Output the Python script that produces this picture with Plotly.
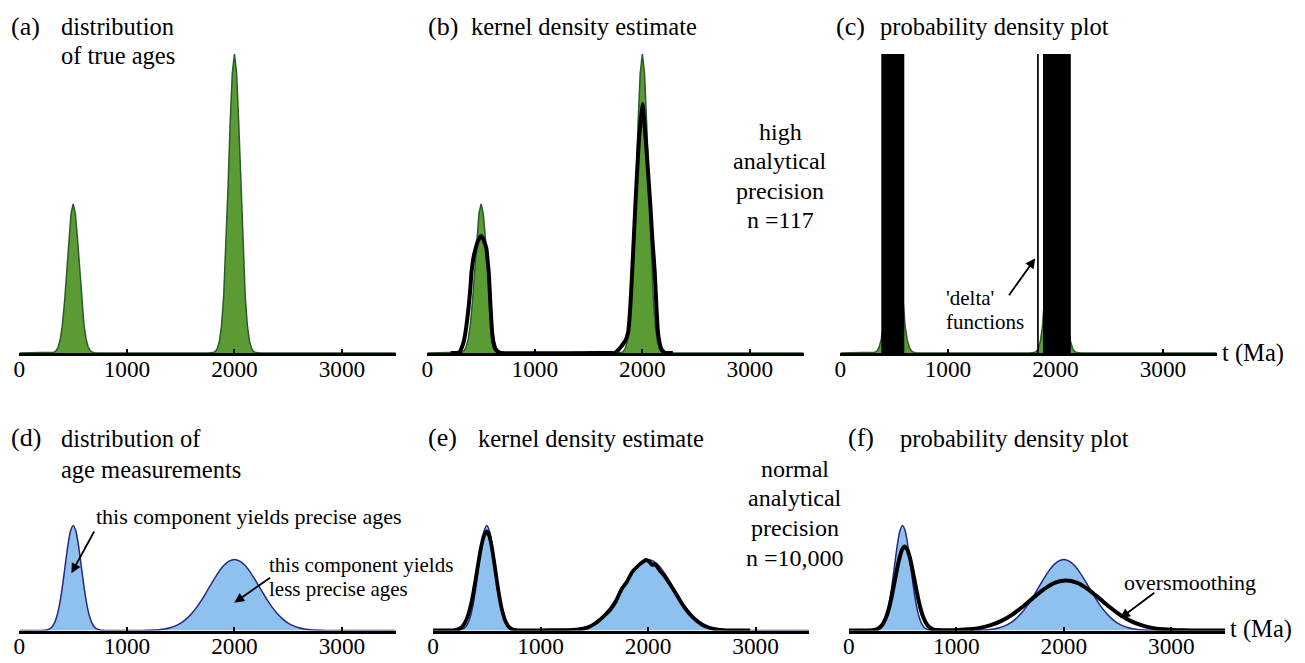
import plotly.graph_objects as go

# ------------------------------------------------------------------ data
AGE_TICKS = [0, 1000, 2000, 3000]
TICK_LABELS = ["0", "1000", "2000", "3000"]
AGE_MAX = 3500

# distribution of true ages (panels a, b, c) – relative density
true_t = [0, 260, 280, 300, 320, 340, 360, 380, 400, 420, 440, 460, 480, 500,
          520, 540, 560, 580, 600, 620, 640, 660, 680, 700, 720, 740,
          1760, 1780, 1800, 1820, 1840, 1860, 1880, 1900, 1920, 1940, 1960, 1980, 2000,
          2020, 2040, 2060, 2080, 2100, 2120, 2140, 2160, 2180, 2200, 2220, 2240, 3500]
true_d = [0, 0, 0.05, 0.2, 0.7, 2.2, 5.8, 13.8, 28.5, 51.7, 82.2, 114.4, 139.5, 149,
          139.5, 114.4, 82.2, 51.7, 28.5, 13.8, 5.8, 2.2, 0.7, 0.2, 0.05, 0,
          0, 0.1, 0.4, 1.4, 4.3, 11.7, 27.7, 57.1, 103.8, 165.0, 229.6, 279.9, 299,
          279.9, 229.6, 165.0, 103.8, 57.1, 27.7, 11.7, 4.3, 1.4, 0.4, 0.1, 0, 0]

# kernel density estimate, high precision (panel b)
kde_hi_t = [217, 280, 300, 315, 340, 355, 370, 386, 400, 411, 430, 448, 470, 500,
            520, 540, 550, 560, 571, 587, 602, 615, 633, 660, 690,
            1700, 1744, 1775, 1800, 1821, 1845, 1868, 1889, 1905, 1920, 1935, 1951,
            1969, 2000, 2031, 2053, 2074, 2093, 2115, 2130, 2145, 2160, 2176, 2200,
            2222, 2284]
kde_hi_d = [0, 0, 1, 4, 12, 21, 33, 48, 65, 81, 96, 104, 112, 117,
            114, 108, 104, 93, 81, 48, 21, 10, 4, 1, 0,
            0, 0, 3, 6, 9, 13, 21, 48, 81, 114, 148, 181,
            214, 249, 214, 181, 148, 114, 81, 48, 21, 10, 4, 1,
            0, 0]

# measured ages shown as 'delta' functions (panel c), n = 117
delta_ages = [388, 394, 401, 408, 415, 421, 428, 434, 440, 446, 451, 456, 461,
              466, 471, 475, 480, 485, 490, 494, 499, 503, 508, 513, 517, 522,
              527, 532, 537, 542, 547, 552, 557, 563, 568, 573, 578, 582, 586,
              1837,
              1892, 1897, 1902, 1907, 1912, 1917, 1921, 1925, 1929, 1933,
              1937, 1941, 1944, 1948, 1951, 1955, 1958, 1961, 1964, 1967,
              1970, 1973, 1976, 1979, 1982, 1985, 1988, 1991, 1994, 1997,
              1999, 2002, 2005, 2008, 2011, 2014, 2017, 2020, 2023, 2026,
              2029, 2032, 2035, 2038, 2041, 2044, 2047, 2050, 2053, 2056,
              2059, 2062, 2065, 2068, 2071, 2074, 2077, 2080, 2083, 2086,
              2089, 2092, 2095, 2098, 2101, 2104, 2107, 2110, 2113, 2116,
              2119, 2122, 2125, 2127, 2129, 2131, 2133]
DELTA_SPIKE = 100000  # spikes are unbounded (clipped by the panel)

# distribution of age measurements (panels d, e, f)
meas_t = [0, 200, 225, 250, 275, 300, 325, 350, 375, 400, 425, 450, 475, 500,
          525, 550, 575, 600, 625, 650, 675, 700, 725, 750, 775, 800,
          1100, 1150, 1200, 1250, 1300, 1350, 1400, 1450, 1500, 1550, 1600, 1650,
          1700, 1750, 1800, 1850, 1900, 1950, 2000, 2050, 2100, 2150, 2200, 2250,
          2300, 2350, 2400, 2450, 2500, 2550, 2600, 2650, 2700, 2750, 2800, 2850,
          2900, 3500]
meas_d = [0, 0, 0.15, 0.5, 1.3, 3.3, 7.4, 15.0, 27.2, 44.2, 64.5, 84.6, 99.5, 105,
          99.5, 84.6, 64.5, 44.2, 27.2, 15.0, 7.4, 3.3, 1.3, 0.5, 0.15, 0,
          0, 0.1, 0.2, 0.4, 0.8, 1.5, 2.7, 4.6, 7.4, 11.4, 16.7, 23.4,
          31.4, 40.3, 49.4, 57.9, 64.9, 69.4, 71, 69.4, 64.9, 57.9, 49.4, 40.3,
          31.4, 23.4, 16.7, 11.4, 7.4, 4.6, 2.7, 1.5, 0.8, 0.4, 0.2, 0.1,
          0, 0]

# kernel density estimate, normal precision (panel e)
kde_lo_t = [0, 150, 175, 200, 225, 250, 275, 300, 325, 350, 375, 400, 425, 450,
            475, 500, 525, 550, 575, 600, 625, 650, 675, 700, 725, 750, 800,
            1000, 1200, 1300, 1350, 1400, 1450, 1500, 1550, 1600, 1650, 1700, 1730,
            1760, 1800, 1850, 1900, 1950, 1980, 2010, 2040, 2065, 2090, 2120, 2150,
            2200, 2250, 2300, 2350, 2400, 2450, 2500, 2550, 2600, 2650, 2700, 2800,
            2950]
kde_lo_d = [0, 0.05, 0.15, 0.4, 0.9, 2.1, 4.3, 8.4, 15.0, 24.7, 37.7, 53.4, 70.0, 84.8,
            95.2, 99, 94.3, 81.4, 63.8, 45.3, 29.2, 17.1, 9.0, 4.3, 1.9, 0.75, 0.1,
            0.2, 0.3, 0.5, 1.0, 1.8, 3.5, 6.5, 10.5, 15.5, 21.0, 29.0, 36.0,
            42.5, 48.0, 58.0, 64.0, 68.5, 70.5, 69.0, 65.5, 66.5, 63.0, 58.5, 55.0,
            47.0, 38.5, 29.5, 21.5, 15.0, 10.0, 6.0, 3.5, 1.8, 0.9, 0.4, 0.1,
            0]

# probability density plot (panel f)
pdp_t = [0, 220, 245, 270, 295, 320, 345, 370, 395, 420, 445, 470, 495, 520,
         545, 570, 595, 620, 645, 670, 695, 720, 745, 770, 795, 820,
         920, 1020, 1120, 1220, 1320, 1420, 1520, 1620, 1720, 1820, 1920, 2020,
         2120, 2220, 2320, 2420, 2520, 2620, 2720, 2820, 2920, 3020, 3120, 3220, 3500]
pdp_d = [0, 0.3, 0.8, 1.8, 3.7, 7.1, 12.7, 20.9, 32.0, 45.3, 59.4, 72.0, 80.8, 84,
         80.8, 72.0, 59.4, 45.3, 32.0, 20.9, 12.7, 7.1, 3.7, 1.8, 0.8, 0.4,
         0.25, 0.5, 1.2, 2.6, 5.3, 9.6, 15.9, 24.0, 33.1, 41.6, 47.8, 50,
         47.8, 41.6, 33.1, 24.0, 15.9, 9.6, 5.3, 2.6, 1.2, 0.5, 0.2, 0.07, 0]

# ------------------------------------------------------------------ style
W, H = 1305, 663
SERIF = "Liberation Serif, Times New Roman, serif"
GREEN_FILL = "#5a9c33"
GREEN_LINE = "#2b5a2b"
BLUE_FILL = "#8fc1ee"
BLUE_LINE = "#28287e"


def px_x(p):
    return p / W


def px_y(p):
    return 1 - p / H


fig = go.Figure()

# panels: id -> (x domain px, y domain px (top, bottom), y max)
TOP = (54, 353, 299)
BOT = (480.5, 630.5, 150)
panels = {
    1: ((13.5, 391.5), TOP),
    2: ((423.3, 801.3), TOP),
    3: ((838.3, 1216.3), TOP),
    4: ((13.5, 391.5), BOT),
    5: ((429.0, 807.0), BOT),
    6: ((846.7, 1224.7), BOT),
}

for i, ((x0, x1), (yt, yb, ymax)) in panels.items():
    sx = "" if i == 1 else str(i)
    fig.layout["xaxis" + sx] = dict(
        domain=[px_x(x0), px_x(x1)], anchor="y" + sx, range=[0, AGE_MAX],
        tickvals=AGE_TICKS, ticktext=TICK_LABELS, ticks="inside", ticklen=4,
        tickwidth=2, tickcolor="black", showline=True, linecolor="black",
        linewidth=3, showgrid=False, zeroline=False, fixedrange=True,
        ticklabelstandoff=-7,
        tickfont=dict(family=SERIF, size=23.3, color="black"))
    fig.layout["yaxis" + sx] = dict(
        domain=[px_y(yb), px_y(yt)], anchor="x" + sx, range=[0, ymax],
        visible=False, fixedrange=True)


def ax(i):
    return ("x" if i == 1 else "x%d" % i), ("y" if i == 1 else "y%d" % i)


# true age distribution in a, b, c
for i in (1, 2, 3):
    xa, ya = ax(i)
    fig.add_trace(go.Scatter(x=true_t, y=true_d, xaxis=xa, yaxis=ya, mode="lines",
                             fill="tozeroy", fillcolor=GREEN_FILL,
                             line=dict(color=GREEN_LINE, width=1.5), hoverinfo="skip"))

# KDE in b
xa, ya = ax(2)
fig.add_trace(go.Scatter(x=kde_hi_t, y=kde_hi_d, xaxis=xa, yaxis=ya, mode="lines",
                         line=dict(color="black", width=4, shape="spline", smoothing=0.5),
                         hoverinfo="skip"))

# delta functions in c
dx, dy = [], []
for a in delta_ages:
    dx += [a, a, None]
    dy += [0, DELTA_SPIKE, None]
xa, ya = ax(3)
fig.add_trace(go.Scatter(x=dx, y=dy, xaxis=xa, yaxis=ya, mode="lines",
                         line=dict(color="black", width=1.7), hoverinfo="skip"))

# measured age distribution in d, e, f
for i in (4, 5, 6):
    xa, ya = ax(i)
    fig.add_trace(go.Scatter(x=meas_t, y=meas_d, xaxis=xa, yaxis=ya, mode="lines",
                             fill="tozeroy", fillcolor=BLUE_FILL,
                             line=dict(color=BLUE_LINE, width=1.5, shape="spline", smoothing=0.6),
                             hoverinfo="skip"))

xa, ya = ax(5)
fig.add_trace(go.Scatter(x=kde_lo_t, y=kde_lo_d, xaxis=xa, yaxis=ya, mode="lines",
                         line=dict(color="black", width=3.8, shape="spline", smoothing=0.5),
                         hoverinfo="skip"))
xa, ya = ax(6)
fig.add_trace(go.Scatter(x=pdp_t, y=pdp_d, xaxis=xa, yaxis=ya, mode="lines",
                         line=dict(color="black", width=4, shape="spline", smoothing=0.6),
                         hoverinfo="skip"))

# ------------------------------------------------------------------ text
ann = []
DY = 3  # vertical correction of text placement


def text(s, x, base, size=24.5, xanchor="left"):
    ann.append(dict(text=s, x=px_x(x), y=px_y(base + DY - 0.3375 * size), xref="paper",
                    yref="paper", xanchor=xanchor, yanchor="middle", showarrow=False,
                    borderpad=0,
                    font=dict(family=SERIF, size=size, color="black")))


def arrow(tail, tip):
    ann.append(dict(text="", x=px_x(tip[0]), y=px_y(tip[1]), xref="paper", yref="paper",
                    ax=tail[0] - tip[0], ay=tail[1] - tip[1], showarrow=True,
                    arrowhead=2, arrowsize=1.1, arrowwidth=1.8, arrowcolor="black",
                    standoff=0))


# panel titles
text("(a)", 4, 32, size=26)
text("distribution", 54, 32)
text("of true ages", 54, 60.5)
text("(b)", 423, 32, size=26)
text("kernel density estimate", 466, 32)
text("(c)", 833, 32, size=26)
text("probability density plot", 877, 32)
text("(d)", 4, 443.5, size=26)
text("distribution of", 54, 443.5)
text("age measurements", 54, 475)
text("(e)", 423, 443.5, size=26)
text("kernel density estimate", 473, 443.5)
text("(f)", 845, 443.5, size=26)
text("probability density plot", 897, 443.5)

# side notes
for s, b in zip(["high", "analytical", "precision", "n =117"], [137, 166.5, 196, 225.5]):
    text(s, 778, b, size=24, xanchor="center")
for s, b in zip(["normal", "analytical", "precision", "n =10,000"], [474, 503.5, 533, 563.5]):
    text(s, 793, b, size=24, xanchor="center")

text("t (Ma)", 1221, 358.5)
text("t (Ma)", 1229, 634)

text("'delta'", 943, 302.5, size=21)
text("functions", 943, 326.5, size=21)
arrow((1006.7, 296.7), (1034, 258.3))

text("this component yields precise ages", 89, 520.7, size=22)
arrow((89.3, 530), (65.7, 573.3))
text("this component yields", 263, 569, size=21)
text("less precise ages", 263, 593, size=21)
arrow((266.7, 576.7), (229.3, 602.7))

text("oversmoothing", 1122, 586.7, size=22)
arrow((1155, 591.7), (1119.3, 618.3))

fig.update_layout(
    width=W, height=H, autosize=False, margin=dict(l=0, r=0, t=0, b=0),
    paper_bgcolor="white", plot_bgcolor="white", showlegend=False,
    annotations=ann)

fig.write_html("out.html")
